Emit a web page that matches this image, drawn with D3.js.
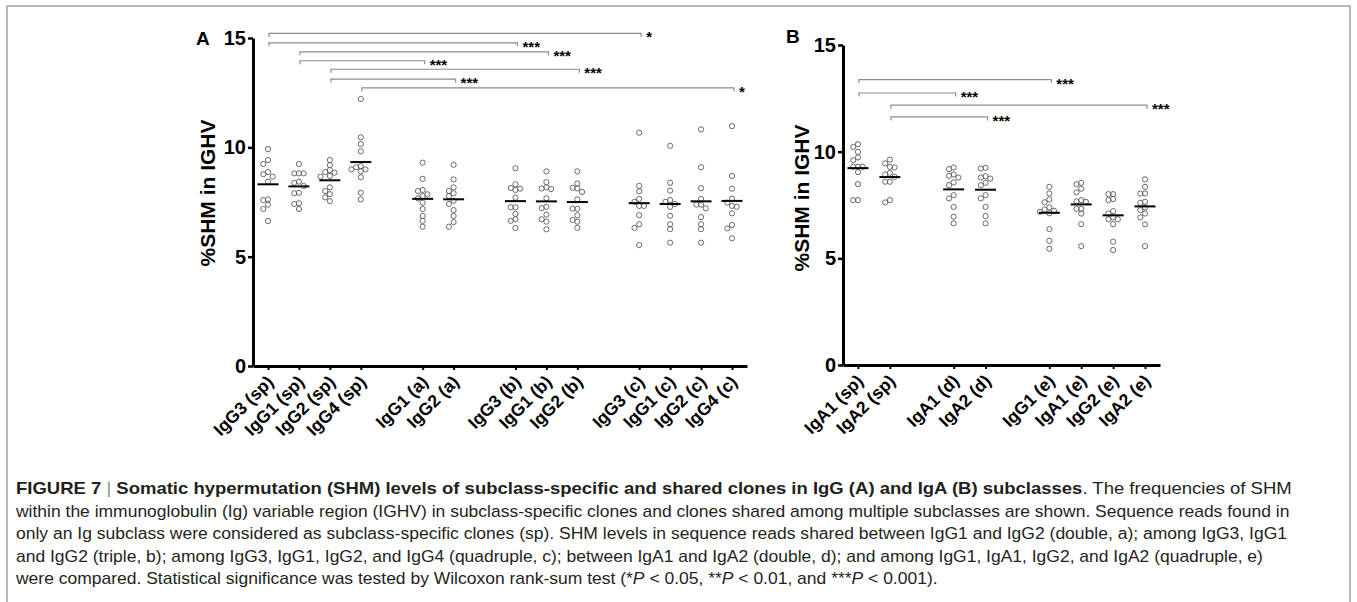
<!DOCTYPE html>
<html>
<head>
<meta charset="utf-8">
<script src="https://cdn.jsdelivr.net/npm/d3@7"></script>
<style>
  body { margin: 0; background: #fff; }
  svg { display: block; }
</style>
</head>
<body>
<script>

// DATI PANNELLO A (IgG)

var groupsA = [
  ["IgG3 (sp)", "IgG1 (sp)", "IgG2 (sp)", "IgG4 (sp)"],
  ["IgG1 (a)", "IgG2 (a)"],
  ["IgG3 (b)", "IgG1 (b)", "IgG2 (b)"],
  ["IgG3 (c)", "IgG1 (c)", "IgG2 (c)", "IgG4 (c)"]
];

var valuesA = [
  [9.92, 9.42, 9.24, 8.87, 8.77, 8.66, 8.43, 7.62, 7.59, 7.38, 7.18, 6.63],
  [9.24, 8.81, 8.81, 8.81, 8.43, 8.38, 8.23, 7.92, 7.90, 7.44, 7.41, 7.18],
  [9.42, 9.19, 8.96, 8.87, 8.84, 8.69, 8.66, 8.17, 8.00, 7.86, 7.71, 7.54],
  [12.21, 10.46, 10.15, 9.82, 9.14, 9.09, 8.99, 8.99, 8.90, 8.63, 7.92, 7.62],
  [9.30, 8.56, 8.05, 8.00, 7.85, 7.77, 7.67, 7.47, 7.18, 6.86, 6.64, 6.37],
  [9.20, 8.53, 8.17, 8.00, 7.90, 7.77, 7.56, 7.41, 7.13, 6.86, 6.58, 6.37],
  [9.04, 8.31, 8.14, 8.11, 8.05, 7.70, 7.26, 7.26, 6.95, 6.71, 6.64, 6.31],
  [8.90, 8.41, 8.17, 8.12, 8.09, 7.67, 7.28, 7.22, 6.92, 6.71, 6.60, 6.25],
  [8.90, 8.35, 8.15, 8.12, 7.96, 7.62, 7.19, 7.19, 6.89, 6.68, 6.60, 6.32],
  [10.67, 8.24, 7.99, 7.64, 7.51, 7.32, 7.32, 6.90, 6.48, 6.32, 5.53],
  [10.07, 8.38, 8.02, 7.59, 7.51, 7.41, 7.28, 6.87, 6.48, 6.26, 5.64],
  [10.82, 9.09, 8.13, 7.64, 7.38, 7.38, 7.21, 6.81, 6.48, 6.26, 5.64],
  [10.97, 8.69, 8.11, 7.65, 7.47, 7.32, 7.28, 6.98, 6.45, 6.29, 5.84]
];

// confronti: gruppo1, gruppo2, altezza (in %SHM), significativita'
var compA = [
  ["IgG3 (sp)", "IgG3 (c)", 15.21, "*"],
  ["IgG3 (sp)", "IgG3 (b)", 14.78, "***"],
  ["IgG1 (sp)", "IgG1 (b)", 14.37, "***"],
  ["IgG1 (sp)", "IgG1 (a)", 13.96, "***"],
  ["IgG2 (sp)", "IgG2 (b)", 13.57, "***"],
  ["IgG2 (sp)", "IgG2 (a)", 13.12, "***"],
  ["IgG4 (sp)", "IgG4 (c)", 12.72, "*"]
];

// DATI PANNELLO B (IgA)

var groupsB = [
  ["IgA1 (sp)", "IgA2 (sp)"],
  ["IgA1 (d)", "IgA2 (d)"],
  ["IgG1 (e)", "IgA1 (e)", "IgG2 (e)", "IgA2 (e)"]
];

var valuesB = [
  [10.35, 10.22, 9.99, 9.73, 9.60, 9.29, 9.29, 9.29, 9.04, 8.48, 7.73, 7.73],
  [9.63, 9.45, 9.29, 9.26, 9.01, 8.93, 8.82, 8.59, 8.59, 7.73, 7.62],
  [9.26, 9.18, 8.93, 8.87, 8.79, 8.56, 8.43, 7.96, 7.81, 7.41, 6.95, 6.64],
  [9.24, 9.21, 8.85, 8.79, 8.74, 8.54, 8.43, 7.96, 7.81, 7.41, 6.98, 6.64],
  [8.35, 8.04, 7.76, 7.63, 7.39, 7.29, 7.23, 7.18, 7.11, 6.37, 5.82, 5.45],
  [8.54, 8.48, 8.26, 8.09, 7.73, 7.67, 7.65, 7.32, 7.32, 7.10, 6.60, 5.57],
  [8.01, 8.01, 7.78, 7.73, 7.21, 7.10, 6.92, 6.83, 6.83, 6.60, 5.78, 5.39],
  [8.70, 8.35, 8.04, 8.04, 7.65, 7.60, 7.39, 7.26, 7.10, 6.92, 6.59, 5.57]
];

var compB = [
  ["IgA1 (sp)", "IgG1 (e)", 13.38, "***"],
  ["IgA1 (sp)", "IgA1 (d)", 12.75, "***"],
  ["IgA2 (sp)", "IgA2 (e)", 12.18, "***"],
  ["IgA2 (sp)", "IgA2 (d)", 11.63, "***"]
];

var yTicks = [0, 5, 10, 15];
var yTitle = "%SHM in IGHV";

var captionLines = [
  [["FIGURE 7 ", "b"], ["|", "bar"], [" Somatic hypermutation (SHM) levels of subclass-specific and shared clones in IgG (A) and IgA (B) subclasses", "b"], [". The frequencies of SHM", "n"]],
  [["within the immunoglobulin (Ig) variable region (IGHV) in subclass-specific clones and clones shared among multiple subclasses are shown. Sequence reads found in", "n"]],
  [["only an Ig subclass were considered as subclass-specific clones (sp). SHM levels in sequence reads shared between IgG1 and IgG2 (double, a); among IgG3, IgG1", "n"]],
  [["and IgG2 (triple, b); among IgG3, IgG1, IgG2, and IgG4 (quadruple, c); between IgA1 and IgA2 (double, d); and among IgG1, IgA1, IgG2, and IgA2 (quadruple, e)", "n"]],
  [["were compared. Statistical significance was tested by Wilcoxon rank-sum test (*", "n"], ["P", "i"], [" < 0.05, **", "n"], ["P", "i"], [" < 0.01, and ***", "n"], ["P", "i"], [" < 0.001).", "n"]]
];
// larghezze delle righe (l'ultima segue la scala media delle altre)
var captionWidths = [1277, 1274, 1272, 1247, null];


// INIZIALIZZA L'SVG

var svg = d3.select("body")
    .append("svg")
    .attr("width", 1357)
    .attr("height", 602);

svg.append("rect")
    .attr("width", 1357)
    .attr("height", 602)
    .attr("fill", "white");

// cornice grigia
svg.append("path")
    .attr("d", "M7,602 V6 H1350 V602")
    .attr("fill", "none")
    .attr("stroke", "#a3a3a3")
    .attr("stroke-width", 1.5);

var fontBold = "'Liberation Sans', Arial, sans-serif";


// FUNZIONE PER UN PANNELLO

function drawPanel(letter, groups, values, comps, left, right, top, bottom, pad, letterX, letterY, titleX, titleY) {

    // dominio con spazi vuoti tra i blocchi
    var domain = [];
    groups.forEach(function(g, i) {
        if (i > 0) domain.push("_gap" + i);
        g.forEach(function(n) { domain.push(n); });
    });
    var names = [].concat.apply([], groups);

    var x = d3.scalePoint()
        .domain(domain)
        .range([left, right])
        .padding(pad);

    var y = d3.scaleLinear()
        .domain([0, 15])
        .range([bottom, top]);

    var g = svg.append("g");

    // ASSE Y
    var yAxis = g.append("g")
        .attr("transform", "translate(" + left + ",0)")
        .call(d3.axisLeft(y).tickValues(yTicks).tickSize(5).tickSizeOuter(0).tickPadding(2));
    yAxis.select(".domain").attr("stroke-width", 3).attr("stroke", "black");
    yAxis.selectAll(".tick line").attr("stroke-width", 2.5);
    yAxis.selectAll(".tick text")
        .attr("font-family", fontBold)
        .attr("font-weight", "bold")
        .attr("font-size", "20px")
        .attr("fill", "black");

    // ASSE X
    var xAxis = g.append("g")
        .attr("transform", "translate(0," + bottom + ")")
        .call(d3.axisBottom(x).tickValues(names).tickSize(4).tickSizeOuter(0));
    xAxis.select(".domain").attr("stroke-width", 3).attr("stroke", "black");
    xAxis.selectAll(".tick line").attr("stroke-width", 2);
    xAxis.selectAll(".tick text")
        .attr("font-family", fontBold)
        .attr("font-weight", "bold")
        .attr("font-size", "17.5px")
        .attr("fill", "black")
        .attr("text-anchor", "end")
        .attr("y", 0)
        .attr("dy", 0)
        .attr("transform", "translate(6,17) rotate(-45)");

    // TITOLO ASSE Y
    g.append("text")
        .attr("transform", "translate(" + titleX + "," + titleY + ") rotate(-90)")
        .attr("text-anchor", "middle")
        .attr("font-family", fontBold)
        .attr("font-weight", "bold")
        .attr("font-size", "21px")
        .text(yTitle);

    // LETTERA DEL PANNELLO
    g.append("text")
        .attr("x", letterX)
        .attr("y", letterY)
        .attr("font-family", fontBold)
        .attr("font-weight", "bold")
        .attr("font-size", "19px")
        .text(letter);

    // PUNTI (sciame) E MEDIA
    var r = 2.6, step = 4.7;
    names.forEach(function(name, i) {
        var vals = values[i].slice().sort(function(a, b) { return b - a; });
        var placed = [];
        vals.forEach(function(v) {
            var py = y(v);
            var offs = [0, -1, 1, -2, 2, -3, 3];
            for (var k = 0; k < offs.length; k++) {
                var px = offs[k] * step;
                var ok = placed.every(function(p) {
                    return Math.hypot(p[0] - px, p[1] - py) >= 4.6;
                });
                if (ok) { placed.push([px, py]); break; }
            }
        });

        g.selectAll(null)
            .data(placed)
            .enter()
            .append("circle")
            .attr("cx", function(p) { return x(name) + p[0]; })
            .attr("cy", function(p) { return p[1]; })
            .attr("r", r)
            .attr("fill", "none")
            .attr("stroke", "#5a5a5a")
            .attr("stroke-width", 0.9);

        var m = d3.mean(values[i]);
        g.append("line")
            .attr("x1", x(name) - 10.5)
            .attr("x2", x(name) + 10.5)
            .attr("y1", y(m))
            .attr("y2", y(m))
            .attr("stroke", "black")
            .attr("stroke-width", 2);
    });

    // PARENTESI DI SIGNIFICATIVITA'
    comps.forEach(function(c) {
        var x1 = x(c[0]) + 1, x2 = x(c[1]) + 2, yy = y(c[2]);
        g.append("path")
            .attr("d", "M" + x1 + "," + (yy + 3.5) + " V" + yy + " H" + x2 + " V" + (yy + 3.5))
            .attr("fill", "none")
            .attr("stroke", "#8c8c8c")
            .attr("stroke-width", 1.2);
        g.append("text")
            .attr("x", x2 + 5)
            .attr("y", yy + 9)
            .attr("font-family", fontBold)
            .attr("font-weight", "bold")
            .attr("font-size", "15px")
            .text(c[3]);
    });
}

drawPanel("A", groupsA, valuesA, compA, 253, 747, 38, 366, 0.485, 196, 45, 215, 193);
drawPanel("B", groupsB, valuesB, compB, 843, 1160, 45, 365, 0.47, 786, 43, 809, 198);


// DIDASCALIA

var scales = [];
captionLines.forEach(function(line, i) {
    var t = svg.append("text")
        .attr("x", 0)
        .attr("y", 0)
        .attr("font-family", "'Liberation Sans', Arial, sans-serif")
        .attr("font-size", "16px")
        .attr("fill", "#231f20");

    line.forEach(function(seg) {
        var ts = t.append("tspan").text(seg[0]);
        if (seg[1] === "b") ts.attr("font-weight", "bold");
        if (seg[1] === "i") ts.attr("font-style", "italic");
        if (seg[1] === "bar") ts.attr("fill", "#8c8c8c").attr("font-weight", "300");
    });

    var w = t.node().getComputedTextLength();
    var sx;
    if (captionWidths[i] !== null) {
        sx = captionWidths[i] / w;
        if (i > 0) scales.push(sx);
    } else {
        sx = d3.mean(scales);
    }
    t.attr("transform", "translate(16," + (494 + i * 22.6) + ") scale(" + sx + ",1)");
});

</script>
</body>
</html>
